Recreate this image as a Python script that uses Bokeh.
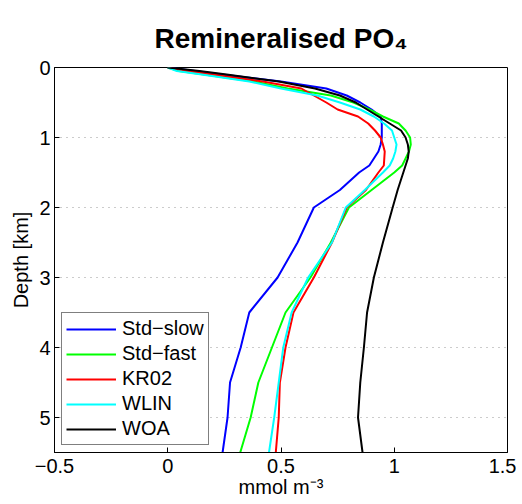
from bokeh.plotting import figure
from bokeh.models import Range1d, FixedTicker, Legend, LegendItem
from bokeh.embed import file_html
from bokeh.resources import INLINE

# depth levels (km), shared by all profiles
depth = [0, 0.05, 0.1, 0.2, 0.3, 0.4, 0.5, 0.6, 0.7, 0.8, 0.9, 1.0, 1.1, 1.2,
         1.3, 1.4, 1.5, 1.75, 2.0, 2.5, 3.0, 3.5, 4.0, 4.5, 5.0, 5.5]

std_slow = [0, 0.12, 0.24, 0.5, 0.7, 0.79, 0.85, 0.9, 0.94, 0.945, 0.945, 0.945, 0.94, 0.93,
            0.91, 0.89, 0.845, 0.76, 0.645, 0.573, 0.485, 0.36, 0.322, 0.275, 0.264, 0.242]
std_fast = [0, 0.05, 0.16, 0.38, 0.53, 0.72, 0.82, 0.89, 0.95, 1.02, 1.05, 1.07, 1.073, 1.065,
            1.05, 1.035, 1.0, 0.9, 0.8, 0.72, 0.63, 0.52, 0.46, 0.40, 0.366, 0.32]
kr02 = [0, 0.09, 0.2, 0.42, 0.59, 0.645, 0.7, 0.75, 0.84, 0.885, 0.915, 0.94, 0.95, 0.958,
        0.956, 0.954, 0.93, 0.875, 0.79, 0.725, 0.645, 0.555, 0.52, 0.495, 0.49, 0.477]
wlin = [0, 0.04, 0.15, 0.36, 0.5, 0.66, 0.76, 0.85, 0.91, 0.955, 0.99, 1.0, 1.01, 1.005,
        0.995, 0.98, 0.95, 0.87, 0.786, 0.725, 0.62, 0.547, 0.51, 0.49, 0.47, 0.447]
woa = [0, 0.14, 0.26, 0.49, 0.65, 0.76, 0.83, 0.88, 0.93, 0.98, 1.03, 1.05, 1.06, 1.064,
       1.06, 1.05, 1.04, 1.015, 0.993, 0.95, 0.91, 0.88, 0.866, 0.85, 0.84, 0.86]

names = ["Std\u2212slow", "Std\u2212fast", "KR02", "WLIN", "WOA"]
colors = ["#0000ff", "#00ff00", "#ff0000", "#00ffff", "#000000"]
series = [std_slow, std_fast, kr02, wlin, woa]

x_ticks = [-0.5, 0, 0.5, 1, 1.5]
y_ticks = [0, 1, 2, 3, 4, 5]

FONT = "Liberation Sans"

p = figure(width=516, height=504, output_backend="svg", toolbar_location=None,
           x_range=Range1d(-0.5, 1.5), y_range=Range1d(5.5, 0),
           min_border_left=54, min_border_right=9, min_border_top=67, min_border_bottom=52)

p.title.text = "Remineralised PO\u2084"
p.title.align = "center"
p.title.text_font = FONT
p.title.text_font_size = "28px"
p.title.text_font_style = "bold"
p.title.text_color = "black"
p.title.standoff = 28

p.outline_line_color = "black"
p.outline_line_width = 1
p.xgrid.visible = False
p.ygrid.ticker = FixedTicker(ticks=[1, 2, 3, 4, 5])
p.ygrid.grid_line_color = "#999999"
p.ygrid.grid_line_dash = "1 5"
p.ygrid.grid_line_width = 1

p.xaxis.ticker = FixedTicker(ticks=x_ticks)
p.yaxis.ticker = FixedTicker(ticks=y_ticks)
p.xaxis.major_label_overrides = {-0.5: "\u22120.5"}
p.xaxis.axis_label = "mmol m\u207b\u00b3"
p.yaxis.axis_label = "Depth [km]"

for ax in [p.xaxis[0], p.yaxis[0]]:
    ax.major_tick_in = 5
    ax.major_tick_out = 0
    ax.minor_tick_in = 0
    ax.minor_tick_out = 0
    ax.axis_line_color = "black"
    ax.major_tick_line_color = "black"
    ax.major_label_text_font = FONT
    ax.major_label_text_font_size = "20px"
    ax.major_label_text_color = "black"
    ax.axis_label_text_font = FONT
    ax.axis_label_text_font_size = "20px"
    ax.axis_label_text_font_style = "normal"
    ax.axis_label_text_color = "black"
p.xaxis.major_label_standoff = 6
p.xaxis.axis_label_standoff = 0
p.yaxis.major_label_standoff = 4
p.yaxis.axis_label_standoff = 4

items = []
for name, color, vals in zip(names, colors, series):
    r = p.line(vals, depth, line_color=color, line_width=2)
    items.append(LegendItem(label=name, renderers=[r]))

legend = Legend(items=items, location=(7, 7), glyph_width=50, glyph_height=20,
                label_height=20, spacing=2, padding=4, label_standoff=6,
                label_text_font=FONT, label_text_font_size="20px", label_text_color="black",
                border_line_color="black", border_line_width=1,
                background_fill_alpha=1, margin=0)
p.add_layout(legend, "center")

open("out.html", "w").write(file_html(p, INLINE))
